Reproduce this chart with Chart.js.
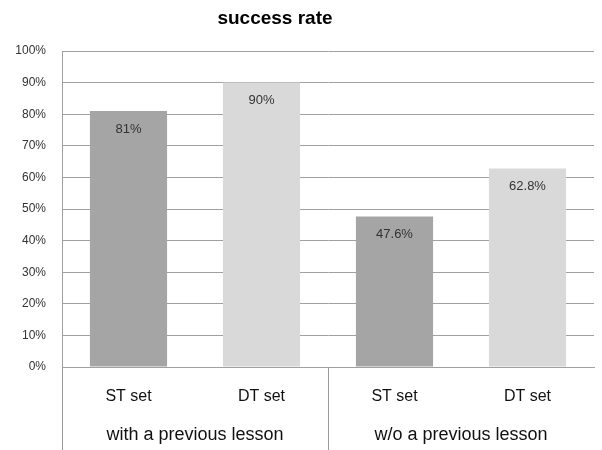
<!DOCTYPE html>
<html>
<head>
<meta charset="utf-8">
<script src="https://cdn.jsdelivr.net/npm/chart.js@4/dist/chart.umd.min.js"></script>
<style>
  html, body { margin: 0; padding: 0; background: #fff; }
  #wrap { width: 602px; height: 450px; }
</style>
</head>
<body>
<div id="wrap"><canvas id="c" width="602" height="450"></canvas></div>
<script>
// Success rate per item set, split by whether a previous lesson was taken
const chartTitle = 'success rate';
const setLabels = ['ST set', 'DT set', 'ST set', 'DT set'];
const groupLabels = ['with a previous lesson', 'w/o a previous lesson'];
const successRates = [81, 90, 47.6, 62.8];
const valueText = ['81%', '90%', '47.6%', '62.8%'];
const barColors = ['#a5a5a5', '#d9d9d9', '#a5a5a5', '#d9d9d9'];
const yTicks = [0, 10, 20, 30, 40, 50, 60, 70, 80, 90, 100];

const FONT = '"Liberation Sans", Arial, sans-serif';

// Title, drawn a little left of the canvas centre
const titleText = {
  id: 'titleText',
  afterDraw(chart) {
    const ctx = chart.ctx;
    ctx.save();
    ctx.font = 'bold 19px ' + FONT;
    ctx.fillStyle = '#000';
    ctx.textAlign = 'center';
    ctx.textBaseline = 'middle';
    ctx.fillText(chartTitle, chart.width / 2 - 26, 19);
    ctx.restore();
  }
};

// Writes the value inside each bar, near its top
const valueLabels = {
  id: 'valueLabels',
  afterDatasetsDraw(chart) {
    const ctx = chart.ctx;
    const meta = chart.getDatasetMeta(0);
    ctx.save();
    ctx.font = '13px ' + FONT;
    ctx.fillStyle = '#333333';
    ctx.textAlign = 'center';
    ctx.textBaseline = 'middle';
    meta.data.forEach((bar, i) => {
      ctx.fillText(valueText[i], bar.x, bar.y + 18);
    });
    ctx.restore();
  }
};

// Vertical separators of the two-level category axis
const groupDividers = {
  id: 'groupDividers',
  afterDraw(chart) {
    const ctx = chart.ctx;
    const x = chart.scales.x;
    const area = chart.chartArea;
    const step = (x.getPixelForValue(1) - x.getPixelForValue(0));
    const left = x.getPixelForValue(0) - step / 2;
    const mid = x.getPixelForValue(1) + step / 2;
    ctx.save();
    ctx.strokeStyle = '#9a9a9a';
    ctx.lineWidth = 1;
    ctx.beginPath();
    ctx.moveTo(Math.round(left) + 0.5, area.bottom);
    ctx.lineTo(Math.round(left) + 0.5, chart.height);
    ctx.moveTo(Math.round(mid) + 0.5, area.bottom);
    ctx.lineTo(Math.round(mid) + 0.5, chart.height);
    ctx.stroke();
    ctx.restore();
  }
};

new Chart(document.getElementById('c'), {
  type: 'bar',
  data: {
    labels: setLabels,
    datasets: [{
      data: successRates,
      backgroundColor: barColors,
      borderWidth: 0,
      categoryPercentage: 1,
      barPercentage: 0.58
    }]
  },
  options: {
    responsive: false,
    animation: false,
    layout: { padding: { left: 0, right: 8, top: 51, bottom: 0 } },
    plugins: {
      legend: { display: false },
      tooltip: { enabled: false },
      title: { display: false }
    },
    scales: {
      y: {
        min: 0,
        max: 100,
        afterBuildTicks(scale) { scale.ticks = yTicks.map(v => ({ value: v })); },
        afterFit(scale) { scale.width = 62; },
        ticks: {
          callback: v => v + '%',
          color: '#333333',
          font: { family: FONT, size: 12 },
          padding: 16
        },
        grid: { color: '#a0a0a0', drawTicks: false },
        border: { color: '#a0a0a0' }
      },
      x: {
        afterFit(scale) { scale.height = 42; },
        ticks: {
          color: '#111',
          font: { family: FONT, size: 16 },
          padding: 20
        },
        grid: { display: false, drawTicks: false },
        border: { color: '#a0a0a0' }
      },
      x2: {
        type: 'category',
        labels: groupLabels,
        position: 'bottom',
        afterFit(scale) { scale.height = 41; },
        ticks: {
          color: '#111',
          font: { family: FONT, size: 18 },
          padding: 15
        },
        grid: { display: false, drawTicks: false },
        border: { display: false }
      }
    }
  },
  plugins: [valueLabels, groupDividers, titleText]
});
</script>
</body>
</html>
